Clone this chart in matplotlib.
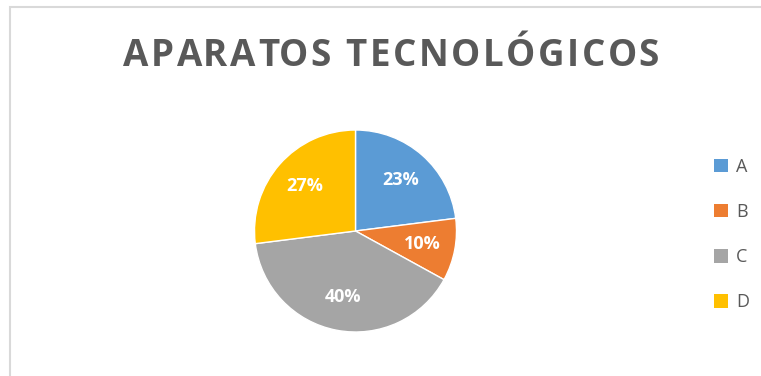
import matplotlib
matplotlib.use("Agg")
import matplotlib.pyplot as plt
from matplotlib.patches import Rectangle, Patch
from matplotlib.font_manager import FontProperties

categories = ["A", "B", "C", "D"]
shares = [23, 10, 40, 27]
colors = ["#5B9BD5", "#ED7D31", "#A5A5A5", "#FFC000"]
title = "APARATOS TECNOLÓGICOS"

W, H = 761, 376
fig = plt.figure(figsize=(W / 100, H / 100), dpi=100)

# chart-area frame
fig.patches.append(Rectangle((9.5 / W, -0.1), 1.2, (H - 6.5) / H + 0.1,
                             transform=fig.transFigure, fill=False,
                             edgecolor="#D9D9D9", linewidth=1.5))

# pie axes: centre (355.5, 231) px, radius 101 px
cx, cy, r = 355.5, 231, 101
ax = fig.add_axes([(cx - r) / W, (H - cy - r) / H, 2 * r / W, 2 * r / H])
wedges, _, autotexts = ax.pie(
    shares, colors=colors, startangle=90, counterclock=False,
    autopct=lambda p: f"{p:.0f}%", pctdistance=0.67,
    wedgeprops=dict(edgecolor="white", linewidth=1.0),
    textprops=dict(color="white", fontsize=13, fontweight="bold",
                   family="Open Sans"))
ax.set_xlim(-1, 1)
ax.set_ylim(-1, 1)
ax.set_aspect("equal")
ax.axis("off")

# letter-spaced title spanning x = 123..659 px, baseline at y = 65.5 px
renderer = fig.canvas.get_renderer()
tprop = FontProperties(family="Open Sans", weight="bold", size=26.5)


def text_width(s):
    w, _, _ = renderer.get_text_width_height_descent(s, tprop, ismath=False)
    return w


x_left, x_right, baseline = 123, 659, 65.5
full_w = text_width(title)
spacing = (x_right - x_left - full_w) / (len(title) - 1)
for i, ch in enumerate(title):
    if ch == " ":
        continue
    x = x_left + text_width(title[:i]) + i * spacing
    fig.text(x / W, (H - baseline) / H, ch, ha="left", va="baseline",
             fontproperties=tprop, color="#595959")

handles = [Patch(facecolor=c, edgecolor="none") for c in colors]
fig.legend(handles, categories, loc="upper left",
           bbox_to_anchor=(705 / W, (H - 149) / H), frameon=False,
           prop=dict(family="Open Sans", size=13), labelcolor="#595959",
           handlelength=0.76, handleheight=0.76, handletextpad=0.45,
           labelspacing=1.5, borderpad=0)

fig.savefig("out.png", dpi=100, facecolor="white")
